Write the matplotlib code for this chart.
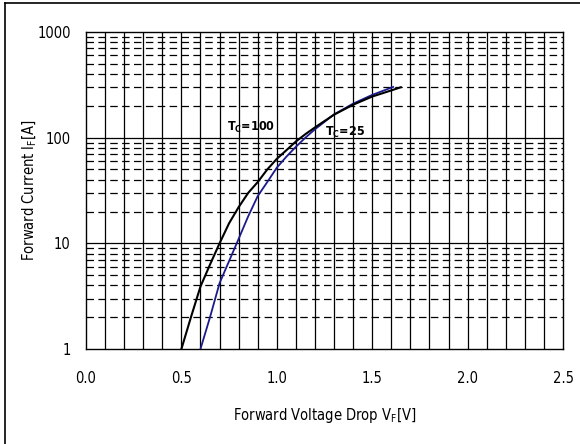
import matplotlib
matplotlib.use('Agg')
import matplotlib.pyplot as plt
import numpy as np

plt.rcParams['font.family'] = ['DejaVu Sans']
plt.rcParams['font.stretch'] = 'condensed'
plt.rcParams['mathtext.fontset'] = 'custom'
plt.rcParams['mathtext.rm'] = 'DejaVu Sans:stretch=condensed'
plt.rcParams['mathtext.bf'] = 'DejaVu Sans:bold:stretch=condensed'

# Tc = 100 curve (black)
vf_100 = [0.50, 0.55, 0.60, 0.65, 0.70, 0.75, 0.80, 0.85, 0.90, 0.95, 1.00,
          1.05, 1.10, 1.15, 1.20, 1.30, 1.40, 1.50, 1.60, 1.65]
if_100 = [1.0, 2.0, 3.9, 6.3, 10.0, 15.5, 22.0, 30.0, 38.0, 50.0, 63.0,
          76.0, 92.0, 108.0, 125.0, 165.0, 205.0, 245.0, 280.0, 300.0]

# Tc = 25 curve (blue)
vf_25 = [0.60, 0.65, 0.70, 0.75, 0.79, 0.85, 0.90, 0.95, 1.00, 1.05, 1.10,
         1.15, 1.20, 1.30, 1.40, 1.50, 1.61]
if_25 = [1.0, 2.0, 4.2, 6.8, 10.0, 18.0, 28.0, 38.0, 52.0, 66.0, 82.0,
         100.0, 120.0, 166.0, 210.0, 254.0, 302.0]

x_ticks = [0.0, 0.5, 1.0, 1.5, 2.0, 2.5]
x_labels = ['0.0', '0.5', '1.0', '1.5', '2.0', '2.5']
y_ticks = [1, 10, 100, 1000]
y_labels = ['1', '10', '100', '1000']

fig = plt.figure(figsize=(5.8, 4.44), dpi=100)
ax = fig.add_axes([86 / 580, 1 - 349 / 444, 477 / 580, 317 / 444])

# grid: solid verticals every 0.1, solid decades, dashed minor decades
for xv in np.arange(0.1, 2.45, 0.1):
    ax.axvline(xv, color='black', lw=0.9, zorder=1)
for dec in [1, 10, 100]:
    for m in range(2, 10):
        ax.axhline(dec * m, color='black', lw=0.9, dashes=(6, 3.5), zorder=1)
for yv in [10, 100]:
    ax.axhline(yv, color='black', lw=0.9, zorder=1)

ax.plot(vf_25, if_25, color='#1a1a8c', lw=1.3, zorder=3)
ax.plot(vf_100, if_100, color='black', lw=1.5, zorder=4)

ax.text(0.865, 126, r'T$_\mathbf{C}$=100', fontsize=9, fontweight='bold',
        ha='center', va='center', zorder=5)
ax.text(1.356, 113, r'T$_\mathbf{C}$=25', fontsize=9, fontweight='bold',
        ha='center', va='center', zorder=5)

ax.set_yscale('log')
ax.set_xlim(0, 2.5)
ax.set_ylim(1, 1000)
ax.set_xticks(x_ticks)
ax.set_xticklabels(x_labels)
ax.set_yticks(y_ticks)
ax.set_yticklabels(y_labels)
ax.minorticks_off()
ax.tick_params(axis='both', length=0, labelsize=10.5)
ax.tick_params(axis='x', pad=16)
ax.tick_params(axis='y', pad=11)
for s in ax.spines.values():
    s.set_linewidth(1.0)

ax.set_xlabel(r'Forward Voltage Drop V$_\mathrm{F}$[V]', fontsize=10.5, labelpad=14)
ax.set_ylabel(r'Forward Current I$_\mathrm{F}$[A]', fontsize=10.5)
ax.yaxis.set_label_coords(-0.117, 0.5)
ax.yaxis.label.set_va('center')

# outer frame (left and top edges)
fig.add_artist(plt.Line2D([4.5 / 580, 4.5 / 580], [0, 1 - 3 / 444], color='black', lw=1.2,
                          transform=fig.transFigure))
fig.add_artist(plt.Line2D([4.5 / 580, 1], [1 - 3 / 444, 1 - 3 / 444], color='black', lw=1.2,
                          transform=fig.transFigure))

plt.savefig('out.png', dpi=100)
